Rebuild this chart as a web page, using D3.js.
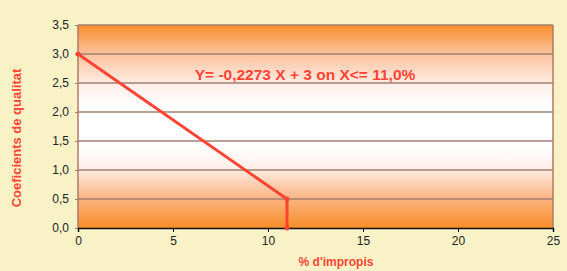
<!DOCTYPE html>
<html>
<head>
<meta charset="utf-8">
<script src="https://cdn.jsdelivr.net/npm/d3@7"></script>
<style>
body { margin: 0; background: #f8f2c6; }
text { font-family: "Liberation Sans", Arial, sans-serif; }
</style>
</head>
<body>
<script>
// data
var lineX = [0, 11, 11];
var lineY = [3, 0.5, 0];
var xTicks = [0, 5, 10, 15, 20, 25];
var yTicks = [0, 0.5, 1, 1.5, 2, 2.5, 3, 3.5];
var equation = "Y= -0,2273 X + 3 on X<= 11,0%";

var W = 567, H = 271;
var pLeft = 78, pRight = 553, pTop = 25, pBottom = 228;

var svg = d3.select("body").append("svg")
  .attr("width", W).attr("height", H);

var x = d3.scaleLinear().domain([0, 25]).range([pLeft, pRight]);
var y = d3.scaleLinear().domain([0, 3.5]).range([pBottom, pTop]);

// orange - white - orange fill
var stops = [
  [0, "#f78e28"], [0.14, "#fbc19c"], [0.3, "#fff0ea"], [0.4, "#ffffff"],
  [0.6, "#ffffff"], [0.7, "#fff0ea"], [0.86, "#fbb27e"], [1, "#f78e28"]
];
var grad = svg.append("defs").append("linearGradient")
  .attr("id", "bg").attr("x1", 0).attr("y1", 0).attr("x2", 0).attr("y2", 1);
grad.selectAll("stop").data(stops).enter().append("stop")
  .attr("offset", function(d){ return d[0]; })
  .attr("stop-color", function(d){ return d[1]; });

svg.append("rect")
  .attr("x", pLeft).attr("y", pTop)
  .attr("width", pRight - pLeft).attr("height", pBottom - pTop)
  .attr("fill", "url(#bg)");

// grid
svg.selectAll(".grid").data(yTicks.slice(1)).enter().append("line")
  .attr("x1", pLeft).attr("x2", pRight)
  .attr("y1", function(d){ return y(d); }).attr("y2", function(d){ return y(d); })
  .attr("stroke", "#a08070").attr("stroke-width", 1.5);

// side borders
svg.append("line").attr("x1", pLeft).attr("x2", pLeft).attr("y1", pTop).attr("y2", pBottom)
  .attr("stroke", "#b07a68").attr("stroke-width", 1.5);
svg.append("line").attr("x1", pRight).attr("x2", pRight).attr("y1", pTop).attr("y2", pBottom)
  .attr("stroke", "#b07a68").attr("stroke-width", 1.5);

// axes
var xAxis = svg.append("g").attr("transform", "translate(0," + pBottom + ")")
  .call(d3.axisBottom(x).tickValues(xTicks).tickSize(4).tickPadding(4));
xAxis.select(".domain").attr("stroke", "#111").attr("stroke-width", 1.5);
xAxis.selectAll("text").attr("font-size", 12).attr("fill", "#222")
  .style("font-family", "Liberation Sans, Arial, sans-serif");

var yAxis = svg.append("g").attr("transform", "translate(" + pLeft + ",0)")
  .call(d3.axisLeft(y).tickValues(yTicks).tickSize(3).tickPadding(6)
    .tickFormat(function(d){ return d3.format(".1f")(d).replace(".", ","); }));
yAxis.select(".domain").remove();
yAxis.selectAll("line").attr("stroke", "#b07a68");
yAxis.selectAll("text").attr("font-size", 12).attr("fill", "#222")
  .style("font-family", "Liberation Sans, Arial, sans-serif");

// line
var pts = lineX.map(function(d, i){ return [d, lineY[i]]; });
svg.append("path")
  .attr("d", d3.line().x(function(d){ return x(d[0]); }).y(function(d){ return y(d[1]); })(pts))
  .attr("fill", "none").attr("stroke", "#ff4433").attr("stroke-width", 3);
svg.selectAll(".pt").data(pts).enter().append("circle")
  .attr("cx", function(d){ return x(d[0]); }).attr("cy", function(d){ return y(d[1]); })
  .attr("r", 2.5).attr("fill", "#ff4433");

// labels
svg.append("text").attr("x", 305).attr("y", 80)
  .attr("text-anchor", "middle").attr("font-size", 15.5).attr("font-weight", "bold")
  .attr("fill", "#ff4433").text(equation);

svg.append("text").attr("x", 336).attr("y", 266)
  .attr("text-anchor", "middle").attr("font-size", 12).attr("font-weight", "bold")
  .attr("fill", "#ff4433").text("% d'impropis");

svg.append("text").attr("transform", "translate(21,138) rotate(-90)")
  .attr("text-anchor", "middle").attr("font-size", 13).attr("font-weight", "bold")
  .attr("fill", "#ff4433").text("Coeficients de qualitat");
</script>
</body>
</html>
